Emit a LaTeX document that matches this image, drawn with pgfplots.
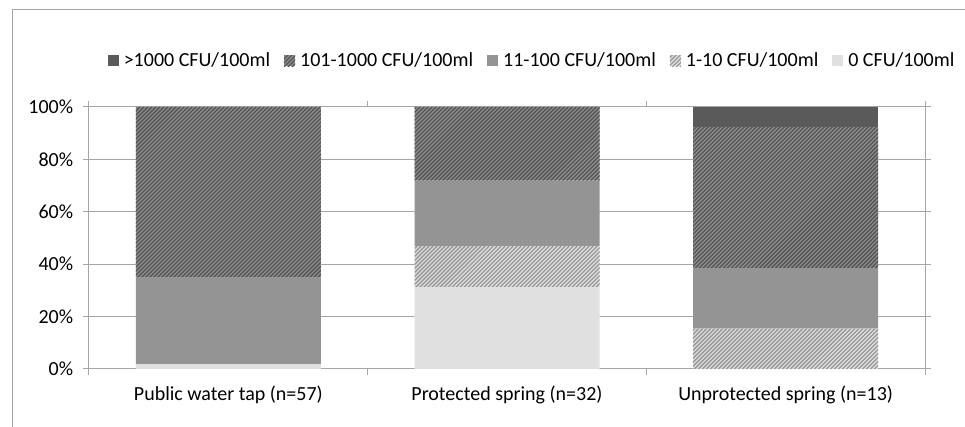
\documentclass[border=0pt]{standalone}
\usepackage{pgfplots}
\pgfplotsset{compat=1.18}
\usetikzlibrary{patterns.meta}
\usepackage{fontspec}
\setmainfont{Carlito}
\definecolor{cA}{HTML}{E0E0E0}
\definecolor{cB}{HTML}{E0E0E0}
\definecolor{cBl}{HTML}{979797}
\definecolor{cC}{HTML}{949494}
\definecolor{cD}{HTML}{8E8E8E}
\definecolor{cDl}{HTML}{555555}
\definecolor{cE}{HTML}{5A5A5A}
\definecolor{gridc}{HTML}{A6A6A6}
\begin{document}
\fontsize{20}{24}\selectfont
\begin{tikzpicture}
\useasboundingbox (-89pt,-58pt) rectangle (876pt,369pt);
\draw[gridc, line width=1pt] (-76pt,-60pt) -- (-76pt,359pt) -- (880pt,359pt);
\begin{axis}[
  at={(0pt,0pt)}, anchor=south west,
  scale only axis, width=836pt, height=262pt,
  ybar stacked, bar width=185pt,
  xmin=-0.5, xmax=2.5, ymin=0, ymax=100,
  xtick={0,1,2},
  xticklabels={Public water tap (n=57),Protected spring (n=32),Unprotected spring (n=13)},
  minor xtick={-0.5,0.5,1.5,2.5},
  major x tick style={draw=none},
  minor x tick style={gridc, line width=1pt},
  minor tick length=6pt,
  ytick={0,20,40,60,80,100},
  yticklabels={0\%,20\%,40\%,60\%,80\%,100\%},
  major tick length=6pt,
  tick align=outside,
  y tick style={gridc, line width=1pt},
  ymajorgrids, grid style={gridc, line width=1pt},
  axis line style={gridc, line width=1pt},
  xticklabel style={yshift=-4pt},
  yticklabel style={xshift=-3pt},
  legend columns=5,
  reverse legend,
  legend style={at={(0.530,1.1756)}, anchor=center, draw=none, fill=none,
    /tikz/every odd column/.append style={column sep=3pt},
    /tikz/every even column/.append style={column sep=12pt},
    nodes={inner sep=2pt}},
  legend image code/.code={\fill[#1] (0pt,-5.5pt) rectangle (11pt,5.5pt);},
]
\addplot[fill=cA, draw=none] coordinates {(0,1.75) (1,31.25) (2,0)};
\addplot[fill=cB, draw=none, postaction={pattern={Lines[angle=45,distance=2.83pt,line width=1.3pt]}, pattern color=cBl}] coordinates {(0,0) (1,15.625) (2,15.38)};
\addplot[fill=cC, draw=none] coordinates {(0,33.33) (1,25) (2,23.08)};
\addplot[fill=cD, draw=none, postaction={pattern={Lines[angle=45,distance=2.83pt,line width=1.3pt]}, pattern color=cDl}] coordinates {(0,64.92) (1,28.125) (2,53.85)};
\addplot[fill=cE, draw=none] coordinates {(0,0) (1,0) (2,7.69)};
\legend{0 CFU/100ml,1-10 CFU/100ml,11-100 CFU/100ml,101-1000 CFU/100ml,>1000 CFU/100ml}
\end{axis}
\end{tikzpicture}
\end{document}
